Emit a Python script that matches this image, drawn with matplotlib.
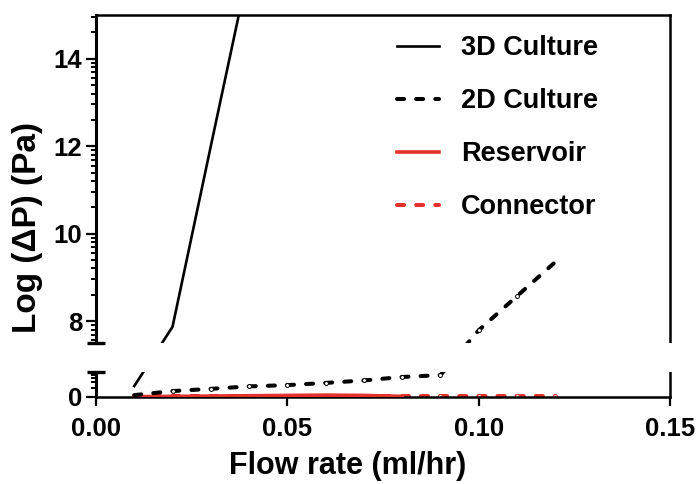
import numpy as np
import matplotlib
matplotlib.use('Agg')
import matplotlib.pyplot as plt
from matplotlib.lines import Line2D
from matplotlib.patches import Rectangle

plt.rcParams['font.family'] = ['Liberation Sans', 'DejaVu Sans']
plt.rcParams['font.weight'] = 'bold'
plt.rcParams['axes.labelweight'] = 'bold'

# data (flow rate in ml/hr, log pressure drop in Pa)
flow = [0.01, 0.02, 0.03, 0.04, 0.05, 0.06, 0.07, 0.08, 0.09, 0.10, 0.11, 0.12]
culture_3d_flow = [0.01, 0.02, 0.03, 0.04]
culture_3d = [0.35, 7.87, 12.0, 16.1]
culture_2d = [0.06, 0.19, 0.26, 0.34, 0.38, 0.45, 0.53, 0.64, 0.70, 7.79, 8.57, 9.35]
reservoir_flow = [0.01, 0.02, 0.03, 0.04, 0.05, 0.06, 0.07, 0.08]
reservoir = [0.01, 0.02, 0.03, 0.04, 0.05, 0.06, 0.05, 0.02]
connector = [0.03, 0.03, 0.03, 0.03, 0.03, 0.03, 0.03, 0.03, 0.03, 0.03, 0.03, 0.03]

legend_labels = ['3D Culture', '2D Culture', 'Reservoir', 'Connector']
x_ticks = [0.00, 0.05, 0.10, 0.15]
y_ticks = [0, 8, 10, 12, 14]

RED = '#e4312b'

# broken y axis: 0-0.8 squeezed at the bottom, gap, then 7.5-15
brk_y = [-100, 0, 0.8, 7.5, 100]
brk_t = [-71.5, 0, 0.572, 1.236, 93.736]


def fwd(y):
    return np.interp(y, brk_y, brk_t)


def inv(t):
    return np.interp(t, brk_t, brk_y)


fig = plt.figure(figsize=(7, 4.84), dpi=100)
ax = fig.add_axes([96 / 700, 87 / 484, 574 / 700, 382 / 484])
ax.set_yscale('function', functions=(fwd, inv))
ax.set_xlim(0, 0.15)
ax.set_ylim(0, 15)

dash = (0, (1.75, 3.0))

# lines (connector first so the reservoir sits on top of it)
l_con, = ax.plot(flow, connector, color=RED, lw=2.9, ls=dash, dash_capstyle='round', zorder=2)
ax.plot(flow, connector, 'o', ms=2.8, mfc='white', mec=RED, mew=0.7, zorder=2)
l_res, = ax.plot(reservoir_flow, reservoir, color=RED, lw=2.6, zorder=3)
l_2d, = ax.plot(flow, culture_2d, color='black', lw=2.9, ls=dash, dash_capstyle='round', zorder=3)
ax.plot(flow[1:-1], culture_2d[1:-1], 'o', ms=2.8, mfc='white', mec='black', mew=0.7, zorder=3)
l_3d, = ax.plot(culture_3d_flow, culture_3d, color='black', lw=1.9, zorder=3)

# blank out the break region
ax.add_patch(Rectangle((0, 0.8), 1.01, 6.7, transform=ax.get_yaxis_transform(),
                       facecolor='white', edgecolor='none', zorder=4, clip_on=False))

# frame: left spine drawn by hand in two pieces with caps
for side in ['top', 'right', 'bottom']:
    ax.spines[side].set_linewidth(1.8)
ax.spines['left'].set_visible(False)
ytr = ax.get_yaxis_transform()
ax.plot([0, 0], [0, 0.8], transform=ytr, color='black', lw=2.2, clip_on=False, zorder=5)
ax.plot([0, 0], [7.5, 15], transform=ytr, color='black', lw=2.2, clip_on=False, zorder=5)
cap = 9 / 574
ax.plot([-cap, cap], [0.8, 0.8], transform=ytr, color='black', lw=2.4, clip_on=False,
        solid_capstyle='butt', zorder=5)
ax.plot([-cap, cap], [7.5, 7.5], transform=ytr, color='black', lw=2.4, clip_on=False,
        solid_capstyle='butt', zorder=5)

# ticks
ax.set_xticks(x_ticks)
ax.set_xticklabels(['%.2f' % v for v in x_ticks])
ax.set_yticks(y_ticks)
ax.set_yticklabels([str(v) for v in y_ticks])
minor = [np.log10(k) for k in range(2, 7)]
minor += [6 + 2 * np.log10(k) for k in range(6, 10)]
for base in [8, 10, 12]:
    minor += [base + 2 * np.log10(k) for k in range(2, 10)]
minor += [14 + 2 * np.log10(k) for k in range(2, 4)]
ax.set_yticks(minor, minor=True)
ax.tick_params(axis='x', which='major', direction='out', length=6.5, width=1.6,
               labelsize=18.5, pad=8)
ax.tick_params(axis='x', which='minor', length=0)
ax.tick_params(axis='y', which='major', direction='out', length=7, width=1.6,
               labelsize=18.5, pad=3)
ax.tick_params(axis='y', which='minor', direction='out', length=3.5, width=1.4)

ax.set_xlabel('Flow rate (ml/hr)', fontsize=22)
ax.xaxis.set_label_coords(0.439, -0.142)
ax.set_ylabel('Log (ΔP) (Pa)', fontsize=24)
ax.yaxis.set_label_coords(-0.093, 0.445)

# legend, no frame
handles = [Line2D([], [], color='black', lw=1.9),
           Line2D([], [], color='black', lw=2.9, ls=dash, dash_capstyle='round'),
           Line2D([], [], color=RED, lw=2.6),
           Line2D([], [], color=RED, lw=2.9, ls=dash, dash_capstyle='round')]
ax.legend(handles, legend_labels, loc='upper left', bbox_to_anchor=(397 / 700, 1 - 35 / 484),
          bbox_transform=fig.transFigure, frameon=False, fontsize=19.5,
          handlelength=1.55, handletextpad=0.8, labelspacing=1.0,
          borderpad=0, borderaxespad=0)

fig.savefig('out.png', dpi=100)
